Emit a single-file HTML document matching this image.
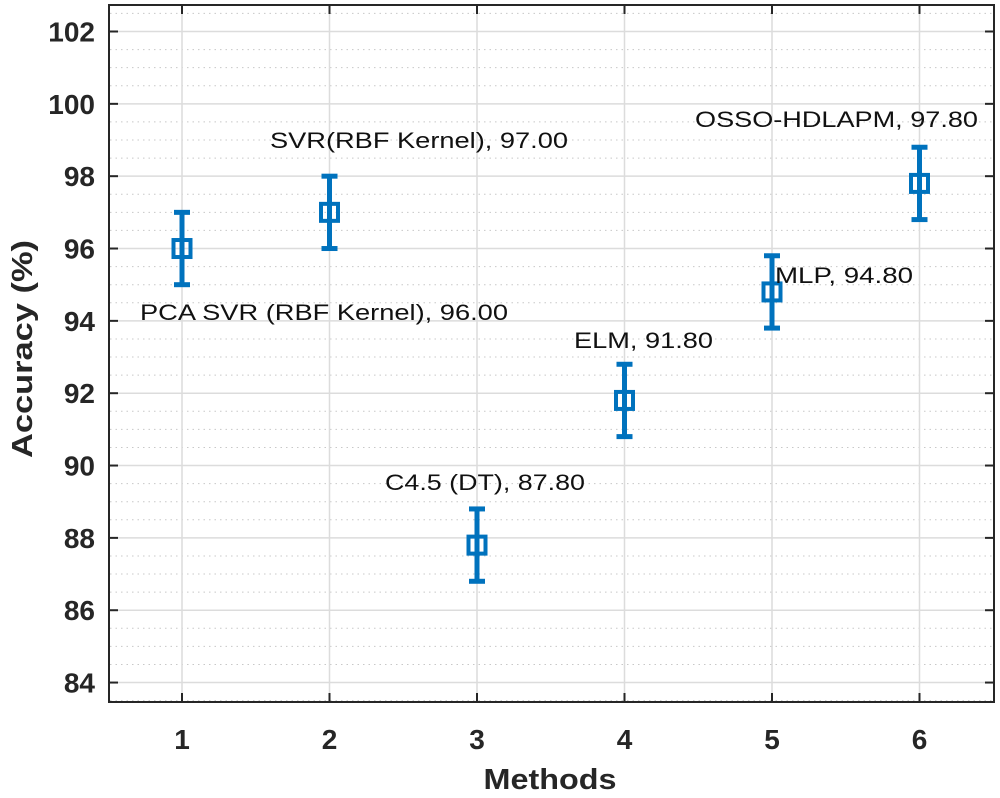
<!DOCTYPE html>
<html><head><meta charset="utf-8"><style>body{margin:0;background:#fff}svg{display:block}</style></head><body>
<svg width="1000" height="798" xmlns="http://www.w3.org/2000/svg" font-family="Liberation Sans, Arial, sans-serif">
<rect width="1000" height="798" fill="#fff"/>
<g id="grid"></g>
<g id="data"></g>
<rect x="109" y="5" width="885" height="697" fill="none" stroke="#262626" stroke-width="2"/>
<g id="ticks"></g>
<g fill="#111" font-size="22">
<text x="270" y="148" textLength="298" lengthAdjust="spacingAndGlyphs">SVR(RBF Kernel), 97.00</text>
<text x="140" y="320" textLength="368" lengthAdjust="spacingAndGlyphs">PCA SVR (RBF Kernel), 96.00</text>
<text x="695" y="127" textLength="283" lengthAdjust="spacingAndGlyphs">OSSO-HDLAPM, 97.80</text>
<text x="775" y="283" textLength="138" lengthAdjust="spacingAndGlyphs">MLP, 94.80</text>
<text x="574" y="348" textLength="139" lengthAdjust="spacingAndGlyphs">ELM, 91.80</text>
<text x="385" y="490" textLength="200" lengthAdjust="spacingAndGlyphs">C4.5 (DT), 87.80</text>
</g>
<text x="550" y="789" font-size="29" font-weight="bold" text-anchor="middle" fill="#262626" textLength="133" lengthAdjust="spacingAndGlyphs">Methods</text>
<text transform="translate(32,349) rotate(-90)" font-size="29" font-weight="bold" text-anchor="middle" fill="#262626" textLength="218" lengthAdjust="spacingAndGlyphs">Accuracy (%)</text>
<script>
var ns="http://www.w3.org/2000/svg";
function Y(v){return 31.5+(102-v)*36.17}
function X(v){return 34.5+v*147.5}
function el(p,t,a,txt){var e=document.createElementNS(ns,t);for(var k in a)e.setAttribute(k,a[k]);if(txt)e.textContent=txt;document.getElementById(p).appendChild(e);return e}
for(var v=83.5;v<=102.6;v+=0.5){var y=Y(v);if(y<6||y>701)continue;
 if(Math.abs(v-Math.round(v))<0.01&&Math.round(v)%2==0)el("grid","line",{x1:110,x2:993,y1:y,y2:y,stroke:"#dcdcdc","stroke-width":1.5});
 else el("grid","line",{x1:110,x2:993,y1:y,y2:y,stroke:"#c8c8c8","stroke-width":1,"stroke-dasharray":"1.5 4"});}
for(var i=1;i<=6;i++){var x=X(i);el("grid","line",{x1:x,x2:x,y1:6,y2:701,stroke:"#dcdcdc","stroke-width":1.5});
 el("ticks","line",{x1:x,x2:x,y1:5,y2:14,stroke:"#262626","stroke-width":2});
 el("ticks","line",{x1:x,x2:x,y1:702,y2:693,stroke:"#262626","stroke-width":2});
 el("ticks","text",{x:x,y:749,"font-size":28,"font-weight":"bold","text-anchor":"middle",fill:"#262626"},""+i);}
for(var v=84;v<=102;v+=2){var y=Y(v);
 el("ticks","line",{x1:109,x2:118,y1:y,y2:y,stroke:"#262626","stroke-width":2});
 el("ticks","line",{x1:994,x2:985,y1:y,y2:y,stroke:"#262626","stroke-width":2});
 el("ticks","text",{x:95,y:y+10,"font-size":28,"font-weight":"bold","text-anchor":"end",fill:"#262626"},""+v);}
var d=[96,97,87.8,91.8,94.8,97.8];
d.forEach(function(v,i){var x=X(i+1),c="#0072BD";
 el("data","line",{x1:x,x2:x,y1:Y(v+1),y2:Y(v-1),stroke:c,"stroke-width":5});
 el("data","line",{x1:x-8,x2:x+8,y1:Y(v+1),y2:Y(v+1),stroke:c,"stroke-width":5});
 el("data","line",{x1:x-8,x2:x+8,y1:Y(v-1),y2:Y(v-1),stroke:c,"stroke-width":5});
 el("data","rect",{x:x-8.5,y:Y(v)-8.5,width:17,height:17,fill:"none",stroke:c,"stroke-width":4});});
</script>
</svg>
</body></html>
